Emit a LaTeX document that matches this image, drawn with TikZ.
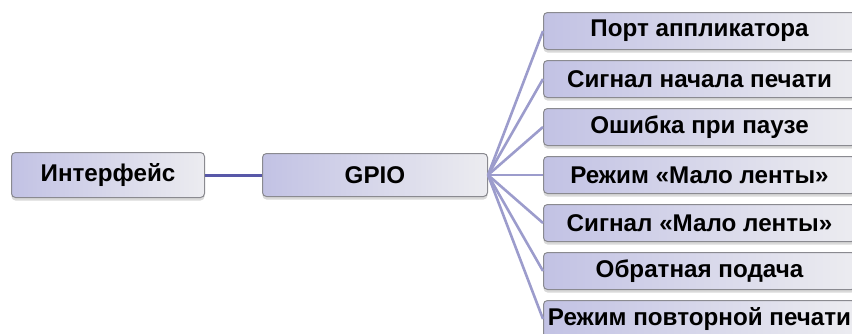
\documentclass[tikz,border=0pt]{standalone}
\usepackage{fontspec}
\setmainfont{Liberation Sans}
\usetikzlibrary{shadows}
\definecolor{boxL}{HTML}{C2C2E4}
\definecolor{boxR}{HTML}{ECECF0}
\definecolor{boxB}{HTML}{8A8A90}
\definecolor{lineA}{HTML}{5858A8}
\definecolor{lineB}{HTML}{9C9CCC}
\tikzset{
  box/.style={draw=boxB, line width=1pt, rounded corners=4pt, left color=boxL, right color=boxR,
    font=\fontsize{24.2}{26}\selectfont\bfseries, anchor=north west, inner sep=0pt,
    drop shadow={shadow xshift=0pt, shadow yshift=-3pt, opacity=0.25, fill=black!60}},
  main/.style={line width=3pt, draw=lineA},
  branch/.style={line width=2.6pt, draw=lineB},
}
\begin{document}
\begin{tikzpicture}[x=1pt,y=-1pt]
\useasboundingbox (0,0) rectangle (852,333);
\clip (0,0) rectangle (852,333);
\node[box, minimum width=193pt, minimum height=45pt] (if) at (11,152) {Интерфейс};
\node[box, minimum width=225pt, minimum height=43pt] (gpio) at (262,153) {GPIO};
\draw[main] (if.east) -- (gpio.west);
\foreach \i/\t in {1/Порт аппликатора,2/Сигнал начала печати,3/Ошибка при паузе,4/Режим «Мало ленты»,5/Сигнал «Мало ленты»,6/Обратная подача,7/Режим повторной печати}{
  \node[box, minimum width=312pt, minimum height=37pt] (r\i) at (543,{12+48*(\i-1)}) {\t};
}
\foreach \i in {1,...,7}{
  \draw[branch] (gpio.east) -- (r\i.west);
}
\end{tikzpicture}
\end{document}
